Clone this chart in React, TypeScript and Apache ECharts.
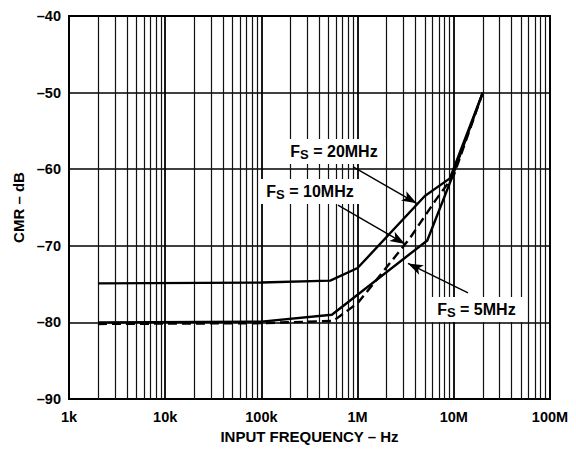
import React, { useEffect, useRef } from "react";
import * as echarts from "echarts";

// ---- data ----
const X_TICK_VALUES = [1e3, 1e4, 1e5, 1e6, 1e7, 1e8];
const X_TICK_LABELS = ["1k", "10k", "100k", "1M", "10M", "100M"];
const Y_TICK_VALUES = [-90, -80, -70, -60, -50, -40];
const Y_TICK_LABELS = ["–90", "–80", "–70", "–60", "–50", "–40"];

const FS20_X = [2e3, 1e5, 5.2e5, 1e6, 5e6, 9.1e6, 2e7];
const FS20_Y = [-74.9, -74.8, -74.55, -72.9, -63.5, -61.2, -50];

const FS10_X = [2e3, 1e5, 5.6e5, 1e6, 1.78e6, 3.5e6, 6.5e6, 1e7, 2e7];
const FS10_Y = [-80.2, -80.1, -79.8, -77.5, -73.6, -69.0, -64.0, -60.8, -50];

const FS5_X = [2e3, 1e5, 5.4e5, 5.3e6, 9.5e6, 2e7];
const FS5_Y = [-80.0, -79.9, -79.0, -69.3, -61.2, -50];

// minor grid (2..9 in each decade)
const MINOR_MULTS = [2, 3, 4, 5, 6, 7, 8, 9];
const DECADES = [1e3, 1e4, 1e5, 1e6, 1e7];

// annotations: label anchor and arrow [start, tip] in data coords
const LABELS = [
  { name: "FS20", text: " = 20MHz", at: [5.82e5, -57.7] },
  { name: "FS10", text: " = 10MHz", at: [3.28e5, -62.9] },
  { name: "FS5", text: " = 5MHz", at: [1.76e7, -78.3] },
];
const ARROWS = [
  { from: [9.0e5, -59.7], to: [4.11e6, -64.45] },
  { from: [6.25e5, -64.7], to: [3.11e6, -69.75] },
  { from: [1.406e7, -76.15], to: [3.34e6, -72.3] },
];

const FONT = "'Liberation Sans', Arial, Helvetica, sans-serif";

function zip(xs: number[], ys: number[]) {
  return xs.map((x, i) => [x, ys[i]]);
}

export default function App() {
  const ref = useRef<HTMLDivElement>(null);
  useEffect(() => {
    if (!ref.current) return;
    const chart = echarts.init(ref.current, undefined, { renderer: "svg" });
    const minorLines: { xAxis: number }[] = [];
    DECADES.forEach((d) => MINOR_MULTS.forEach((m) => minorLines.push({ xAxis: d * m })));

    const lineBase = {
      type: "line" as const,
      showSymbol: false,
      symbol: "none",
      silent: true,
      animation: false,
      z: 3,
    };

    const rich = {
      n: { fontFamily: FONT, fontWeight: "bold", fontSize: 16, color: "#000" },
      s: { fontFamily: FONT, fontWeight: "bold", fontSize: 13, color: "#000", padding: [6, 0, 0, 0] },
    };

    chart.setOption({
      animation: false,
      backgroundColor: "#fff",
      grid: {
        left: 69,
        right: 26,
        top: 16,
        bottom: 50,
        show: true,
        borderColor: "#000",
        borderWidth: 2,
        backgroundColor: "transparent",
      },
      xAxis: {
        type: "log",
        logBase: 10,
        min: 1e3,
        max: 1e8,
        name: "INPUT FREQUENCY – Hz",
        nameLocation: "middle",
        nameGap: 30,
        nameTextStyle: { fontFamily: FONT, fontWeight: "bold", fontSize: 15, color: "#000" },
        axisLine: { show: false },
        axisTick: { show: false },
        axisLabel: {
          margin: 10,
          fontFamily: FONT,
          fontWeight: "bold",
          fontSize: 14.5,
          color: "#000",
          formatter: (v: number) => {
            const e = Math.round(Math.log10(v));
            const i = X_TICK_VALUES.findIndex((t) => Math.round(Math.log10(t)) === e);
            return i >= 0 ? X_TICK_LABELS[i] : "";
          },
        },
        splitLine: { show: true, lineStyle: { color: "#000", width: 1.8 } },
      },
      yAxis: {
        type: "value",
        min: -90,
        max: -40,
        interval: 10,
        name: "CMR – dB",
        nameLocation: "middle",
        nameGap: 41,
        nameTextStyle: { fontFamily: FONT, fontWeight: "bold", fontSize: 15, color: "#000" },
        axisLine: { show: false },
        axisTick: { show: false },
        axisLabel: {
          margin: 8,
          fontFamily: FONT,
          fontWeight: "bold",
          fontSize: 14.5,
          color: "#000",
          formatter: (v: number) => {
            const i = Y_TICK_VALUES.findIndex((t) => Math.abs(t - v) < 1e-6);
            return i >= 0 ? Y_TICK_LABELS[i] : "";
          },
        },
        splitLine: { show: true, lineStyle: { color: "#000", width: 1.5 } },
      },
      series: [
        {
          ...lineBase,
          name: "minorGrid",
          data: [],
          z: 1,
          markLine: {
            silent: true,
            symbol: "none",
            z: 1,
            animation: false,
            label: { show: false },
            emphasis: { disabled: true },
            lineStyle: { color: "#111", width: 1.2, type: "solid" },
            data: minorLines,
          },
        },
        {
          ...lineBase,
          name: "FS = 20MHz",
          data: zip(FS20_X, FS20_Y),
          lineStyle: { color: "#000", width: 2.4 },
        },
        {
          ...lineBase,
          name: "FS = 10MHz",
          data: zip(FS10_X, FS10_Y),
          lineStyle: { color: "#000", width: 2.4, type: [9, 5] },
        },
        {
          ...lineBase,
          name: "FS = 5MHz",
          data: zip(FS5_X, FS5_Y),
          lineStyle: { color: "#000", width: 2.4 },
        },
        {
          ...lineBase,
          name: "annotations",
          data: [],
          z: 10,
          markPoint: {
            silent: true,
            z: 10,
            animation: false,
            symbol: "rect",
            symbolSize: 0,
            label: {
              show: true,
              position: "inside",
              backgroundColor: "#fff",
              padding: [3, 8, 3, 6],
            },
            data: LABELS.map((l) => ({
              name: l.name,
              coord: l.at,
              label: { formatter: "{n|F}{s|S}{n|" + l.text + "}", rich },
            })),
          },
          markLine: {
            silent: true,
            z: 11,
            animation: false,
            symbol: ["none", "arrow"],
            symbolSize: [8, 15],
            label: { show: false },
            emphasis: { disabled: true },
            lineStyle: { color: "#000", width: 1.4, type: "solid" },
            data: ARROWS.map((a) => [{ coord: a.from }, { coord: a.to }]),
          },
        },
      ],
    });
    return () => chart.dispose();
  }, []);
  return (
    <div
      ref={ref}
      style={{ position: "fixed", left: 0, top: 0, width: 576, height: 449, background: "#fff" }}
    />
  );
}
